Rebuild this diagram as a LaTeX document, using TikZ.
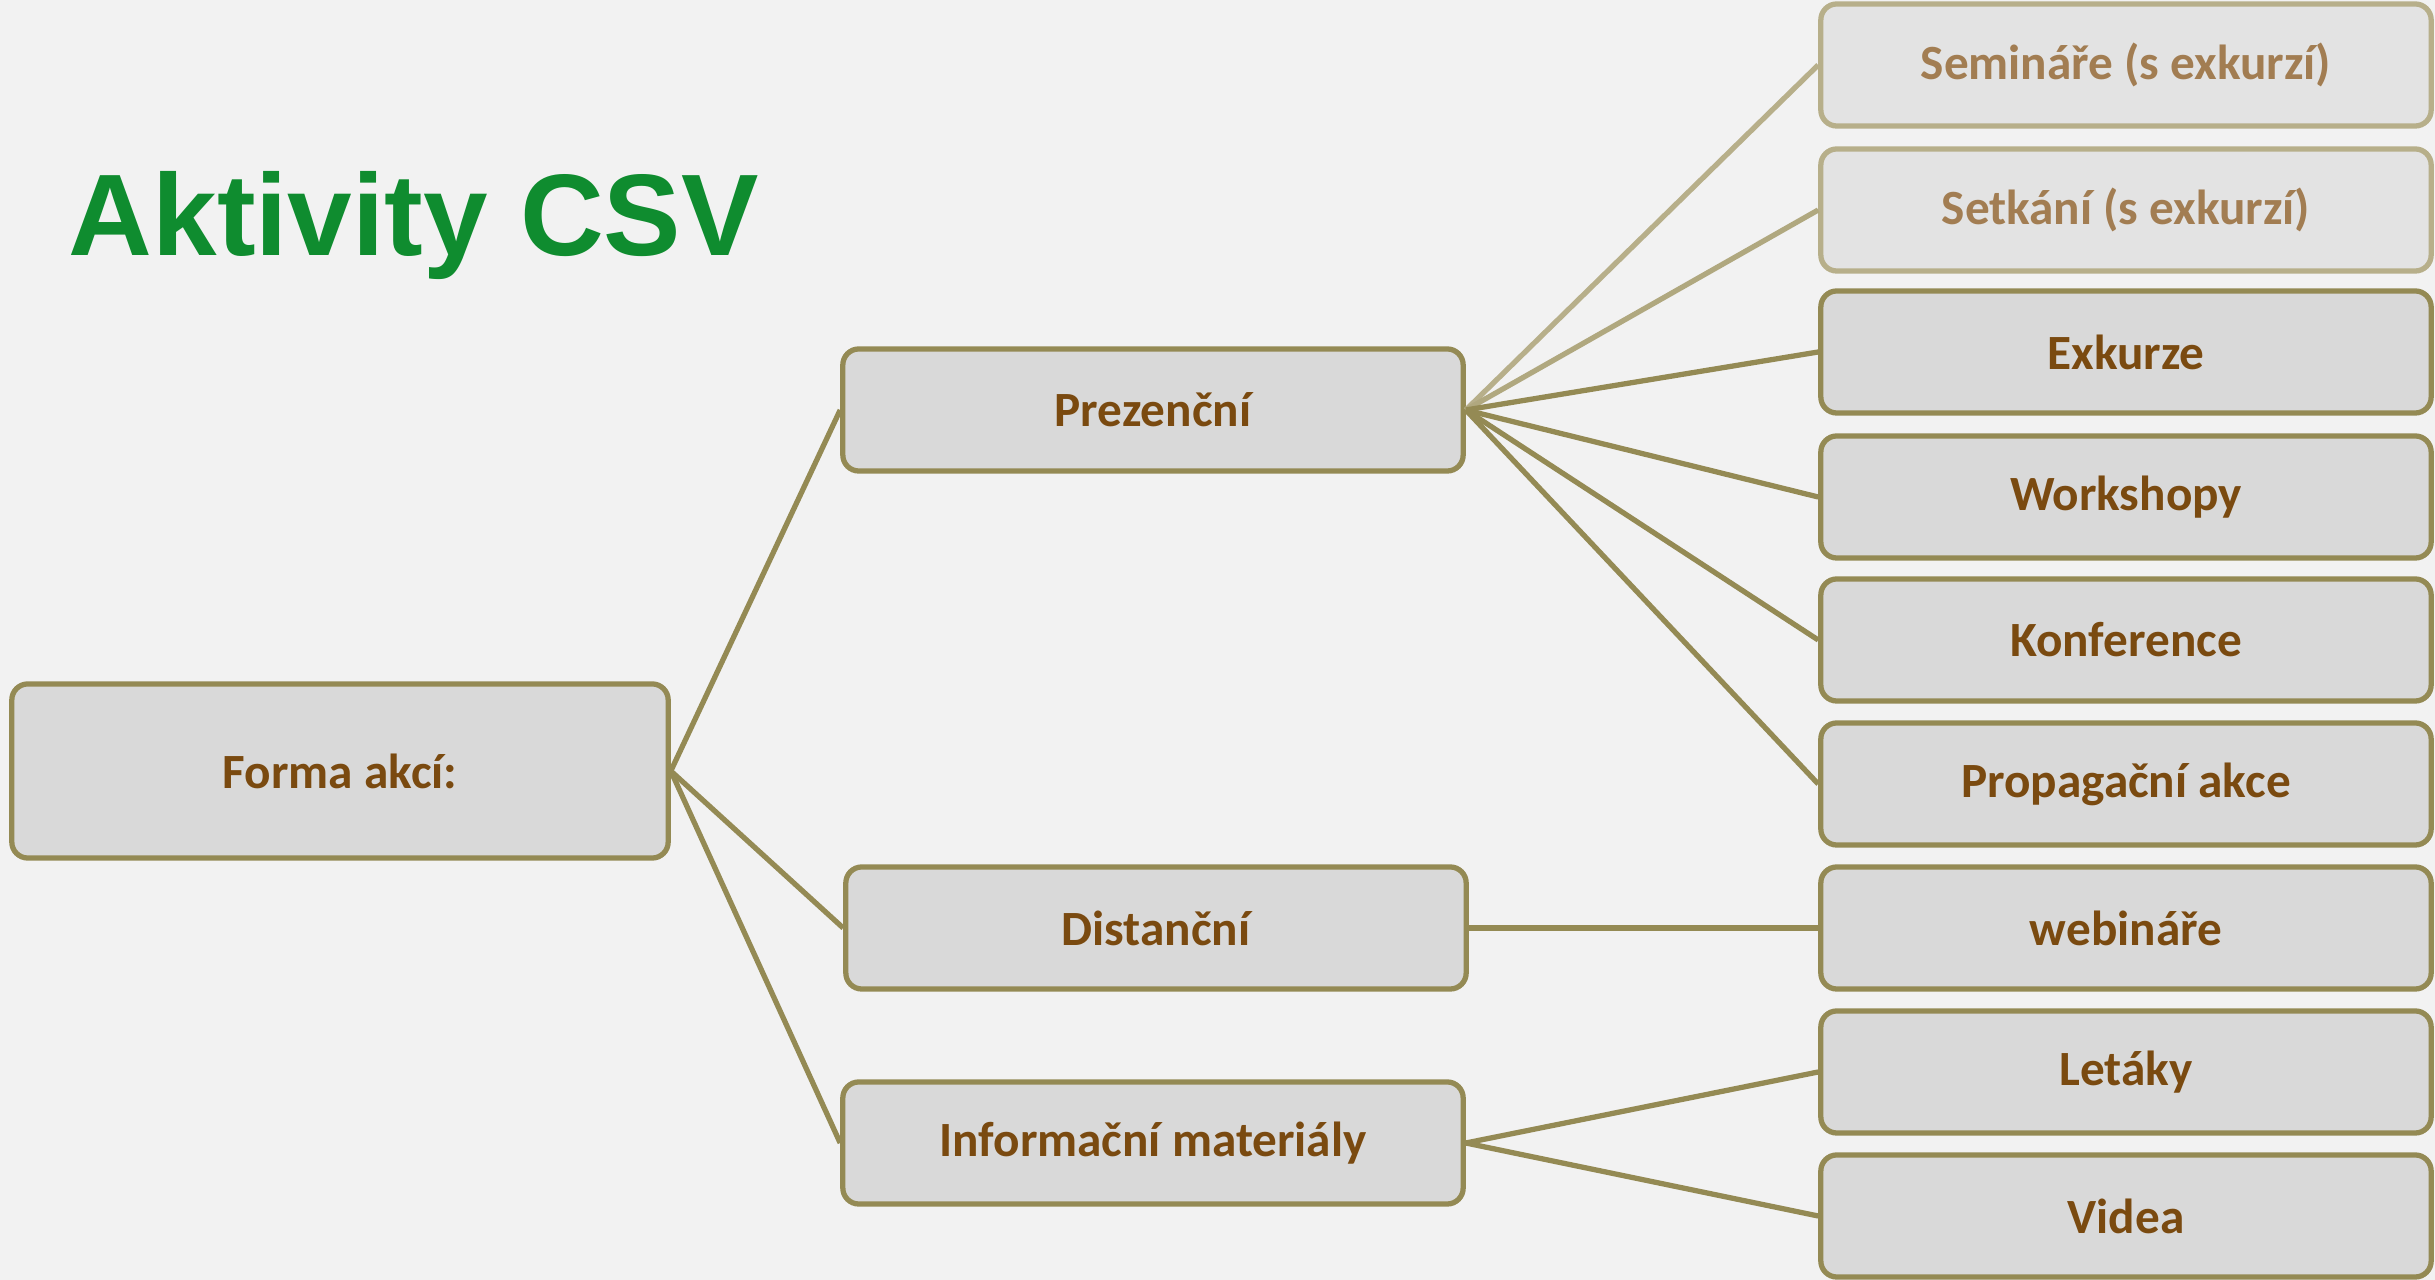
\documentclass[tikz,border=0pt]{standalone}
\usepackage{fontspec}
\setmainfont{Carlito}
\newfontfamily\titlefont{Liberation Sans}
\definecolor{bgcol}{HTML}{F2F2F2}
\definecolor{boxline}{HTML}{948A54}
\definecolor{boxfill}{HTML}{D9D9D9}
\definecolor{boxtext}{HTML}{7A4A10}
\definecolor{paleline}{HTML}{B7AF8A}
\definecolor{palefill}{HTML}{E3E3E3}
\definecolor{paletext}{HTML}{A27D52}
\definecolor{titlegreen}{HTML}{0F8C2F}

\begin{document}
\begin{tikzpicture}[x=0.01cm,y=-0.01cm,
      box/.style={draw=boxline,fill=boxfill,line width=1.5pt,rounded corners=0.16cm,
        text=boxtext,font=\bfseries\fontsize{14}{16}\selectfont,minimum height=1.22cm},
      mid/.style={box,minimum width=6.2cm},
      leaf/.style={box,minimum width=6.1cm},
      pale/.style={draw=paleline,fill=palefill,text=paletext},
      link/.style={draw=boxline,line width=1.5pt}]
    \useasboundingbox (0,0) rectangle (2435,1280);
    \clip (0,0) rectangle (2435,1280);
    \fill[bgcol] (0,0) rectangle (2435,1280);

    \node[anchor=base west,inner sep=0,text=titlegreen,
          font=\titlefont\bfseries\fontsize{33}{38}\selectfont] (T) at (68,256) {Aktivity CSV};

    \node[box,minimum width=6.56cm,minimum height=1.74cm] (FA) at (340,771) {Forma akcí:};
    \node[mid] (PR) at (1153,410)  {Prezenční};
    \node[mid] (DI) at (1156,928)  {Distanční};
    \node[mid] (IM) at (1153,1143) {Informační materiály};

    \node[leaf,pale] (SE) at (2126,65)  {Semináře (s exkurzí)};
    \node[leaf,pale] (ST) at (2126,210) {Setkání (s exkurzí)};
    \node[leaf] (EX) at (2126,352)  {Exkurze};
    \node[leaf] (WS) at (2126,497)  {Workshopy};
    \node[leaf] (KO) at (2126,640)  {Konference};
    \node[leaf] (PA) at (2126,784)  {Propagační akce};
    \node[leaf] (WE) at (2126,928)  {webináře};
    \node[leaf] (LE) at (2126,1072) {Letáky};
    \node[leaf] (VI) at (2126,1216) {Videa};

    \path[link]
      (FA.east) edge (PR.west)
                edge (DI.west)
                edge (IM.west)
      (PR.east) edge [draw=paleline] (SE.west)
                edge [draw=paleline!80!boxline] (ST.west)
                edge (EX.west)
                edge (WS.west)
                edge (KO.west)
                edge (PA.west)
      (DI.east) edge (WE.west)
      (IM.east) edge (LE.west)
                edge (VI.west);
\end{tikzpicture}
\end{document}
